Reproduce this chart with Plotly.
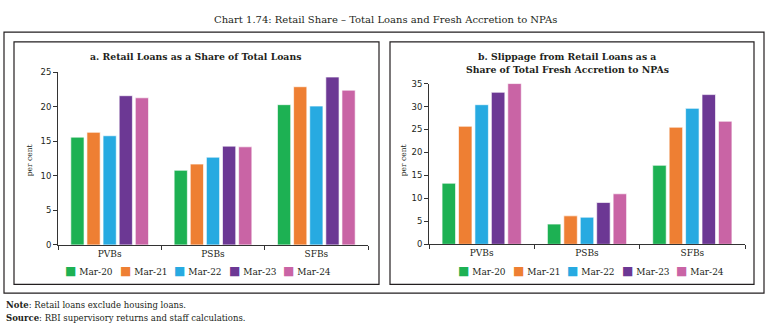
import plotly.graph_objects as go

W, H = 770, 334
categories = ["PVBs", "PSBs", "SFBs"]
series_names = ["Mar-20", "Mar-21", "Mar-22", "Mar-23", "Mar-24"]
colors = ["#1DB153", "#EE7F33", "#27AAE1", "#6C3894", "#C964A5"]

# Panel a: Retail loans as a share of total loans (per cent)
retail_share = {
    "Mar-20": [15.6, 10.8, 20.3],
    "Mar-21": [16.3, 11.7, 22.9],
    "Mar-22": [15.8, 12.7, 20.1],
    "Mar-23": [21.6, 14.3, 24.3],
    "Mar-24": [21.3, 14.2, 22.4],
}
# Panel b: Slippage from retail loans as share of total fresh accretion to NPAs
slippage_share = {
    "Mar-20": [13.3, 4.4, 17.2],
    "Mar-21": [25.7, 6.2, 25.5],
    "Mar-22": [30.4, 5.9, 29.6],
    "Mar-23": [33.1, 9.1, 32.6],
    "Mar-24": [35.0, 11.0, 26.8],
}
yticks_a = [0, 5, 10, 15, 20, 25]
yticks_b = [0, 5, 10, 15, 20, 25, 30, 35]

SERIF = "DejaVu Serif"
SANS = "DejaVu Sans"
TXT = "#231F20"

def px(x):
    return x / W

def py(y):
    return 1 - y / H

fig = go.Figure()
for name, col in zip(series_names, colors):
    fig.add_trace(go.Bar(x=categories, y=retail_share[name], name=name,
                         marker=dict(color=col, line=dict(color="rgba(255,255,255,0.8)", width=0.8)),
                         xaxis="x", yaxis="y", showlegend=False))
    fig.add_trace(go.Bar(x=categories, y=slippage_share[name], name=name,
                         marker=dict(color=col, line=dict(color="rgba(255,255,255,0.8)", width=0.8)),
                         xaxis="x2", yaxis="y2", showlegend=False))

axis_common_x = dict(type="category", showline=True, linecolor="#333333", linewidth=1,
                     ticks="outside", tickson="boundaries", ticklen=4, tickcolor="#333333",
                     tickfont=dict(family=SERIF, size=9, color=TXT), showgrid=False,
                     fixedrange=True)
axis_common_y = dict(showline=True, linecolor="#333333", linewidth=1, ticks="outside",
                     ticklen=4, tickcolor="#333333", showgrid=False, zeroline=False,
                     tickfont=dict(family=SANS, size=8.5, color=TXT))

fig.update_layout(
    width=W, height=H, margin=dict(l=0, r=0, t=0, b=0),
    paper_bgcolor="white", plot_bgcolor="white",
    barmode="group", bargap=0.22, bargroupgap=0.18,
    showlegend=False,
    xaxis=dict(domain=[px(58), px(368)], anchor="y", **axis_common_x),
    yaxis=dict(domain=[py(247.3), py(69.3)], anchor="x", range=[0, 25],
               tickvals=yticks_a, **axis_common_y),
    xaxis2=dict(domain=[px(429), px(745)], anchor="y2", **axis_common_x),
    yaxis2=dict(domain=[py(246.7), py(81)], anchor="x2", range=[0, 35],
                tickvals=yticks_b, **axis_common_y),
)

shapes = [
    dict(type="rect", xref="paper", yref="paper", x0=px(4), x1=px(764), y0=py(297), y1=py(28),
         line=dict(color="#231F20", width=1.2)),
    dict(type="rect", xref="paper", yref="paper", x0=px(14), x1=px(379), y0=py(288), y1=py(38),
         line=dict(color="#231F20", width=1.2)),
    dict(type="rect", xref="paper", yref="paper", x0=px(390), x1=px(754), y0=py(288), y1=py(38),
         line=dict(color="#231F20", width=1.2)),
]
fig.update_layout(shapes=shapes)

ann = []
ann.append(dict(text="Chart 1.74: Retail Share – Total Loans and Fresh Accretion to NPAs",
                x=px(385), y=py(15), xref="paper", yref="paper", showarrow=False,
                font=dict(family=SERIF, size=10, color=TXT), xanchor="center", yanchor="middle"))
ann.append(dict(text="<b>a. Retail Loans as a Share of Total Loans</b>",
                x=px(196), y=py(53), xref="paper", yref="paper", showarrow=False,
                font=dict(family=SERIF, size=9.3, color=TXT), xanchor="center", yanchor="middle"))
ann.append(dict(text="<b>b. Slippage from Retail Loans as a</b>",
                x=px(567), y=py(53), xref="paper", yref="paper", showarrow=False,
                font=dict(family=SERIF, size=9.3, color=TXT), xanchor="center", yanchor="middle"))
ann.append(dict(text="<b>Share of Total Fresh Accretion to NPAs</b>",
                x=px(567), y=py(67), xref="paper", yref="paper", showarrow=False,
                font=dict(family=SERIF, size=9.3, color=TXT), xanchor="center", yanchor="middle"))
for xx in (29, 403):
    ann.append(dict(text="per cent", x=px(xx), y=py(160), xref="paper", yref="paper",
                    showarrow=False, textangle=-90,
                    font=dict(family=SERIF, size=7.5, color=TXT), xanchor="center", yanchor="middle"))
# legends
for x0 in (63, 456):
    for i, (name, col) in enumerate(zip(series_names, colors)):
        ann.append(dict(text=f"<span style='color:{col};font-size:12px'>■</span> {name}",
                        x=px(x0 + i * 54.5), y=py(274), xref="paper", yref="paper",
                        showarrow=False, xanchor="left", yanchor="middle",
                        font=dict(family=SERIF, size=9, color=TXT)))
ann.append(dict(text="<b>Note</b>: Retail loans exclude housing loans.",
                x=px(4), y=py(309), xref="paper", yref="paper", showarrow=False,
                xanchor="left", yanchor="middle", font=dict(family=SERIF, size=8.5, color=TXT)))
ann.append(dict(text="<b>Source</b>: RBI supervisory returns and staff calculations.",
                x=px(4), y=py(323), xref="paper", yref="paper", showarrow=False,
                xanchor="left", yanchor="middle", font=dict(family=SERIF, size=8.5, color=TXT)))
fig.update_layout(annotations=ann)

fig.write_html("out.html")
